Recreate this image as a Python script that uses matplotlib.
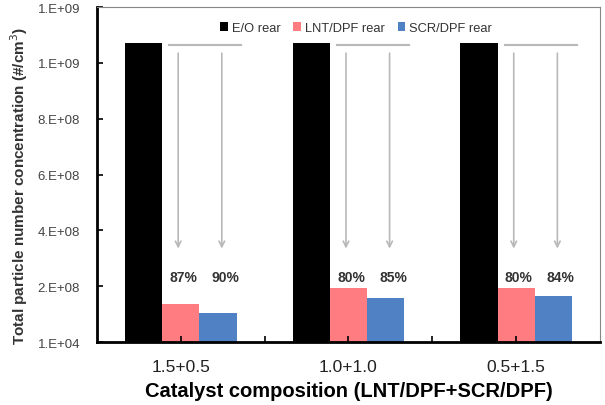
import numpy as np
import matplotlib
matplotlib.use('Agg')
import matplotlib.pyplot as plt
from matplotlib.ticker import FuncFormatter, FixedLocator

plt.rcParams['font.family'] = ['Liberation Sans', 'DejaVu Sans']

# data
categories = ['1.5+0.5', '1.0+1.0', '0.5+1.5']
eo_rear = [1.07e9, 1.07e9, 1.07e9]
lnt_rear = [1.38e8, 1.93e8, 1.93e8]
scr_rear = [1.05e8, 1.58e8, 1.64e8]
lnt_pct = ['87%', '80%', '80%']
scr_pct = ['90%', '85%', '84%']
yticks = [1e4, 2e8, 4e8, 6e8, 8e8, 1e9, 1.2e9]

fig = plt.figure(figsize=(6.05, 4.06), dpi=100)
ax = fig.add_axes([0.160, 0.155, 0.832, 0.825])

x = np.arange(len(categories))
w = 0.222
ax.bar(x - w, eo_rear, w, color='black', label='E/O rear')
ax.bar(x, lnt_rear, w, color='#ff7c80', label='LNT/DPF rear')
ax.bar(x + w, scr_rear, w, color='#4f81c4', label='SCR/DPF rear')

# reduction arrows
gray = '#b8b8b8'
for i in range(len(categories)):
    ax.plot([x[i] - 0.07, x[i] + 0.36], [1.064e9, 1.064e9], color=gray, lw=1.5)
    for dx in (-0.015, 0.245):
        ax.annotate('', xy=(x[i] + dx, 3.25e8), xytext=(x[i] + dx, 1.045e9),
                    arrowprops=dict(arrowstyle='->', color=gray, lw=1.2,
                                    mutation_scale=10))
    ax.text(x[i] + 0.015, 2.34e8, lnt_pct[i], ha='center', va='center',
            fontsize=10, fontweight='bold', color='#333333')
    ax.text(x[i] + 0.265, 2.34e8, scr_pct[i], ha='center', va='center',
            fontsize=10, fontweight='bold', color='#333333')

ax.set_xlim(-0.5, 2.5)
ax.set_ylim(1e4, 1.2e9)
ax.set_xticks(x)
ax.set_xticklabels(categories, fontsize=12.5, color='#222222')
ax.xaxis.set_minor_locator(FixedLocator([0.5, 1.5]))
ax.tick_params(axis='x', which='both', direction='in', length=4, width=1.2, pad=12)
ax.set_yticks(yticks)
ax.yaxis.set_major_formatter(FuncFormatter(lambda v, p: '%#.0E' % v))
ax.tick_params(axis='y', direction='in', length=4, width=1.2, labelsize=9.5,
               labelcolor='#444444', pad=12)

ax.set_xlabel('Catalyst composition (LNT/DPF+SCR/DPF)', fontsize=14.5,
              fontweight='bold', labelpad=5)
ax.set_ylabel('Total particle number concentration (#/cm$^3$)', fontsize=11,
              fontweight='bold', color='#333333')
ax.yaxis.set_label_coords(-0.132, 0.47)

ax.spines['left'].set_linewidth(2)
ax.spines['bottom'].set_linewidth(2)
ax.spines['top'].set_color('#888888')
ax.spines['right'].set_color('#888888')

ax.legend(loc='upper center', bbox_to_anchor=(0.515, 0.99), ncol=3, frameon=False,
          fontsize=9.3, handlelength=0.6, handleheight=0.6, handletextpad=0.3,
          columnspacing=1.0, labelcolor='#333333')

plt.savefig('out.png', dpi=100)
